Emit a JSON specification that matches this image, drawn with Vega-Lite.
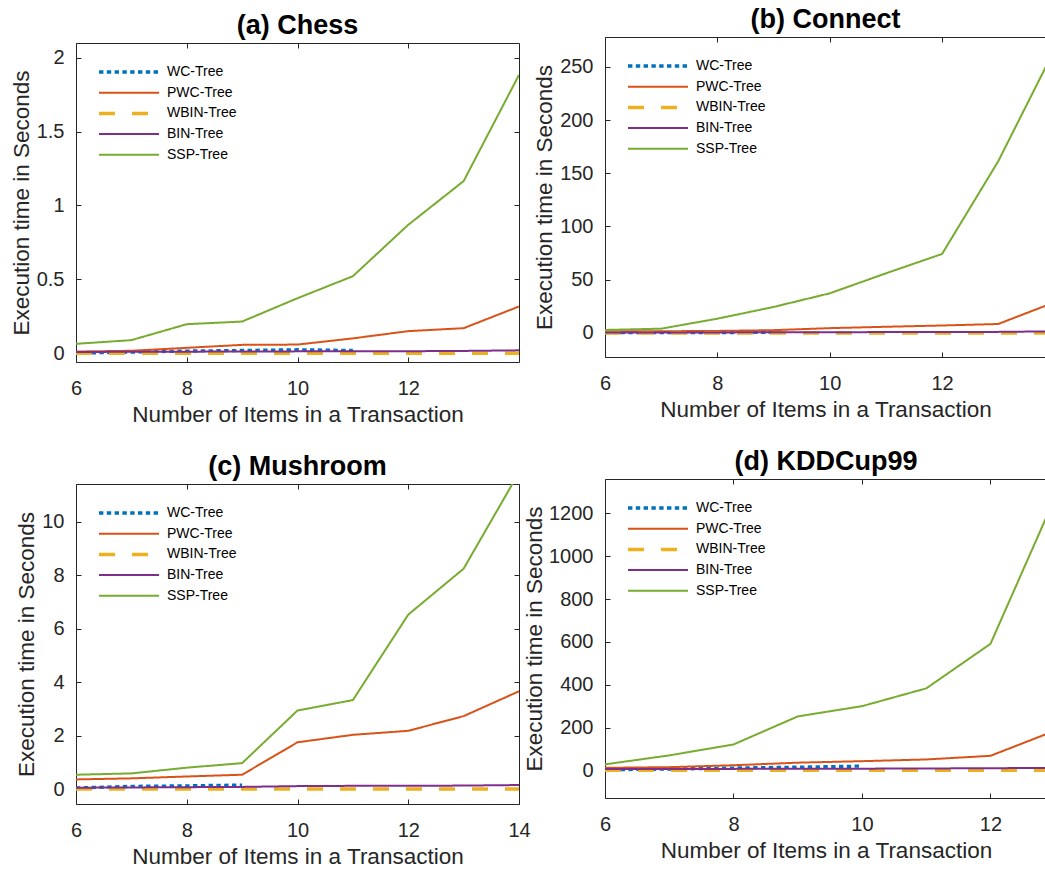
{
  "$schema": "https://vega.github.io/schema/vega-lite/v6.json",
  "padding": {"left": 10, "top": -2, "right": 0, "bottom": 0},
  "background": "white",
  "config": {
    "font": "Liberation Sans",
    "view": {"stroke": null},
    "axis": {
      "grid": false,
      "domainColor": "#262626",
      "tickColor": "#262626",
      "labelColor": "#262626",
      "titleColor": "#262626",
      "labelFont": "Liberation Sans",
      "titleFont": "Liberation Sans",
      "labelFontSize": 20,
      "titleFontSize": 22.5,
      "titleFontWeight": "normal",
      "tickSize": -5,
      "labelFlush": false,
      "labelOverlap": false
    },
    "axisX": {"labelPadding": 21, "titlePadding": 5},
    "axisY": {"labelPadding": 17, "titlePadding": 3},
    "title": {"fontSize": 27, "fontWeight": "bold", "color": "#000000", "font": "Liberation Sans", "offset": 3},
    "legend": {
      "orient": "top-left",
      "offset": 21,
      "padding": 0,
      "title": null,
      "symbolType": "stroke",
      "symbolSize": 3600,
      "clipHeight": 16,
      "labelFontSize": 14,
      "labelColor": "#000000",
      "labelFont": "Liberation Sans",
      "rowPadding": 4.7,
      "labelOffset": 6
    }
  },
  "datasets": {
    "d": [
      {"p": "a", "s": "WC-Tree", "x": 6, "y": 0.0},
      {"p": "a", "s": "WC-Tree", "x": 7, "y": 0.007},
      {"p": "a", "s": "WC-Tree", "x": 8, "y": 0.014},
      {"p": "a", "s": "WC-Tree", "x": 9, "y": 0.018},
      {"p": "a", "s": "WC-Tree", "x": 10, "y": 0.023},
      {"p": "a", "s": "WC-Tree", "x": 11, "y": 0.018},
      {"p": "a", "s": "PWC-Tree", "x": 6, "y": 0.011},
      {"p": "a", "s": "PWC-Tree", "x": 7, "y": 0.016},
      {"p": "a", "s": "PWC-Tree", "x": 8, "y": 0.036},
      {"p": "a", "s": "PWC-Tree", "x": 9, "y": 0.056},
      {"p": "a", "s": "PWC-Tree", "x": 10, "y": 0.058},
      {"p": "a", "s": "PWC-Tree", "x": 11, "y": 0.1},
      {"p": "a", "s": "PWC-Tree", "x": 12, "y": 0.149},
      {"p": "a", "s": "PWC-Tree", "x": 13, "y": 0.169},
      {"p": "a", "s": "PWC-Tree", "x": 14, "y": 0.316},
      {"p": "a", "s": "WBIN-Tree", "x": 6, "y": 0.0},
      {"p": "a", "s": "WBIN-Tree", "x": 7, "y": 0.0},
      {"p": "a", "s": "WBIN-Tree", "x": 8, "y": 0.0},
      {"p": "a", "s": "WBIN-Tree", "x": 9, "y": 0.0},
      {"p": "a", "s": "WBIN-Tree", "x": 10, "y": 0.0},
      {"p": "a", "s": "WBIN-Tree", "x": 11, "y": 0.0},
      {"p": "a", "s": "WBIN-Tree", "x": 12, "y": 0.0},
      {"p": "a", "s": "WBIN-Tree", "x": 13, "y": 0.0},
      {"p": "a", "s": "WBIN-Tree", "x": 14, "y": 0.0},
      {"p": "a", "s": "BIN-Tree", "x": 6, "y": 0.008},
      {"p": "a", "s": "BIN-Tree", "x": 7, "y": 0.009},
      {"p": "a", "s": "BIN-Tree", "x": 8, "y": 0.01},
      {"p": "a", "s": "BIN-Tree", "x": 9, "y": 0.011},
      {"p": "a", "s": "BIN-Tree", "x": 10, "y": 0.012},
      {"p": "a", "s": "BIN-Tree", "x": 11, "y": 0.012},
      {"p": "a", "s": "BIN-Tree", "x": 12, "y": 0.013},
      {"p": "a", "s": "BIN-Tree", "x": 13, "y": 0.015},
      {"p": "a", "s": "BIN-Tree", "x": 14, "y": 0.019},
      {"p": "a", "s": "SSP-Tree", "x": 6, "y": 0.063},
      {"p": "a", "s": "SSP-Tree", "x": 7, "y": 0.088},
      {"p": "a", "s": "SSP-Tree", "x": 8, "y": 0.196},
      {"p": "a", "s": "SSP-Tree", "x": 9, "y": 0.214},
      {"p": "a", "s": "SSP-Tree", "x": 10, "y": 0.372},
      {"p": "a", "s": "SSP-Tree", "x": 11, "y": 0.521},
      {"p": "a", "s": "SSP-Tree", "x": 12, "y": 0.869},
      {"p": "a", "s": "SSP-Tree", "x": 13, "y": 1.165},
      {"p": "a", "s": "SSP-Tree", "x": 14, "y": 1.884},

      {"p": "b", "s": "WC-Tree", "x": 6, "y": 0.2},
      {"p": "b", "s": "WC-Tree", "x": 7, "y": 0.3},
      {"p": "b", "s": "WC-Tree", "x": 8, "y": 0.4},
      {"p": "b", "s": "WC-Tree", "x": 9, "y": 0.5},
      {"p": "b", "s": "PWC-Tree", "x": 6, "y": 1.5},
      {"p": "b", "s": "PWC-Tree", "x": 7, "y": 1.6},
      {"p": "b", "s": "PWC-Tree", "x": 8, "y": 1.9},
      {"p": "b", "s": "PWC-Tree", "x": 9, "y": 2.6},
      {"p": "b", "s": "PWC-Tree", "x": 10, "y": 4.5},
      {"p": "b", "s": "PWC-Tree", "x": 11, "y": 5.8},
      {"p": "b", "s": "PWC-Tree", "x": 12, "y": 7.0},
      {"p": "b", "s": "PWC-Tree", "x": 13, "y": 8.4},
      {"p": "b", "s": "PWC-Tree", "x": 14, "y": 28.8},
      {"p": "b", "s": "WBIN-Tree", "x": 6, "y": 0.0},
      {"p": "b", "s": "WBIN-Tree", "x": 7, "y": 0.0},
      {"p": "b", "s": "WBIN-Tree", "x": 8, "y": 0.0},
      {"p": "b", "s": "WBIN-Tree", "x": 9, "y": 0.0},
      {"p": "b", "s": "WBIN-Tree", "x": 10, "y": 0.0},
      {"p": "b", "s": "WBIN-Tree", "x": 11, "y": 0.0},
      {"p": "b", "s": "WBIN-Tree", "x": 12, "y": 0.0},
      {"p": "b", "s": "WBIN-Tree", "x": 13, "y": 0.0},
      {"p": "b", "s": "WBIN-Tree", "x": 14, "y": 0.0},
      {"p": "b", "s": "BIN-Tree", "x": 6, "y": 0.3},
      {"p": "b", "s": "BIN-Tree", "x": 7, "y": 0.4},
      {"p": "b", "s": "BIN-Tree", "x": 8, "y": 0.5},
      {"p": "b", "s": "BIN-Tree", "x": 9, "y": 0.6},
      {"p": "b", "s": "BIN-Tree", "x": 10, "y": 0.7},
      {"p": "b", "s": "BIN-Tree", "x": 11, "y": 0.8},
      {"p": "b", "s": "BIN-Tree", "x": 12, "y": 0.9},
      {"p": "b", "s": "BIN-Tree", "x": 13, "y": 1.0},
      {"p": "b", "s": "BIN-Tree", "x": 14, "y": 1.5},
      {"p": "b", "s": "SSP-Tree", "x": 6, "y": 2.8},
      {"p": "b", "s": "SSP-Tree", "x": 7, "y": 4.0},
      {"p": "b", "s": "SSP-Tree", "x": 8, "y": 13.4},
      {"p": "b", "s": "SSP-Tree", "x": 9, "y": 24.4},
      {"p": "b", "s": "SSP-Tree", "x": 10, "y": 37.2},
      {"p": "b", "s": "SSP-Tree", "x": 11, "y": 56},
      {"p": "b", "s": "SSP-Tree", "x": 12, "y": 74.2},
      {"p": "b", "s": "SSP-Tree", "x": 13, "y": 161.3},
      {"p": "b", "s": "SSP-Tree", "x": 14, "y": 266},

      {"p": "c", "s": "WC-Tree", "x": 6, "y": 0.04},
      {"p": "c", "s": "WC-Tree", "x": 7, "y": 0.1},
      {"p": "c", "s": "WC-Tree", "x": 8, "y": 0.12},
      {"p": "c", "s": "WC-Tree", "x": 9, "y": 0.15},
      {"p": "c", "s": "PWC-Tree", "x": 6, "y": 0.36},
      {"p": "c", "s": "PWC-Tree", "x": 7, "y": 0.4},
      {"p": "c", "s": "PWC-Tree", "x": 8, "y": 0.47},
      {"p": "c", "s": "PWC-Tree", "x": 9, "y": 0.536},
      {"p": "c", "s": "PWC-Tree", "x": 10, "y": 1.75},
      {"p": "c", "s": "PWC-Tree", "x": 11, "y": 2.03},
      {"p": "c", "s": "PWC-Tree", "x": 12, "y": 2.18},
      {"p": "c", "s": "PWC-Tree", "x": 13, "y": 2.73},
      {"p": "c", "s": "PWC-Tree", "x": 14, "y": 3.66},
      {"p": "c", "s": "WBIN-Tree", "x": 6, "y": 0.0},
      {"p": "c", "s": "WBIN-Tree", "x": 7, "y": 0.0},
      {"p": "c", "s": "WBIN-Tree", "x": 8, "y": 0.0},
      {"p": "c", "s": "WBIN-Tree", "x": 9, "y": 0.0},
      {"p": "c", "s": "WBIN-Tree", "x": 10, "y": 0.0},
      {"p": "c", "s": "WBIN-Tree", "x": 11, "y": 0.0},
      {"p": "c", "s": "WBIN-Tree", "x": 12, "y": 0.0},
      {"p": "c", "s": "WBIN-Tree", "x": 13, "y": 0.0},
      {"p": "c", "s": "WBIN-Tree", "x": 14, "y": 0.0},
      {"p": "c", "s": "BIN-Tree", "x": 6, "y": 0.05},
      {"p": "c", "s": "BIN-Tree", "x": 7, "y": 0.06},
      {"p": "c", "s": "BIN-Tree", "x": 8, "y": 0.07},
      {"p": "c", "s": "BIN-Tree", "x": 9, "y": 0.08},
      {"p": "c", "s": "BIN-Tree", "x": 10, "y": 0.11},
      {"p": "c", "s": "BIN-Tree", "x": 11, "y": 0.12},
      {"p": "c", "s": "BIN-Tree", "x": 12, "y": 0.12},
      {"p": "c", "s": "BIN-Tree", "x": 13, "y": 0.13},
      {"p": "c", "s": "BIN-Tree", "x": 14, "y": 0.15},
      {"p": "c", "s": "SSP-Tree", "x": 6, "y": 0.536},
      {"p": "c", "s": "SSP-Tree", "x": 7, "y": 0.585},
      {"p": "c", "s": "SSP-Tree", "x": 8, "y": 0.8},
      {"p": "c", "s": "SSP-Tree", "x": 9, "y": 0.97},
      {"p": "c", "s": "SSP-Tree", "x": 10, "y": 2.94},
      {"p": "c", "s": "SSP-Tree", "x": 11, "y": 3.33},
      {"p": "c", "s": "SSP-Tree", "x": 12, "y": 6.53},
      {"p": "c", "s": "SSP-Tree", "x": 13, "y": 8.25},
      {"p": "c", "s": "SSP-Tree", "x": 14, "y": 11.85},

      {"p": "d", "s": "WC-Tree", "x": 6, "y": 3},
      {"p": "d", "s": "WC-Tree", "x": 7, "y": 6},
      {"p": "d", "s": "WC-Tree", "x": 8, "y": 11},
      {"p": "d", "s": "WC-Tree", "x": 9, "y": 15},
      {"p": "d", "s": "WC-Tree", "x": 10, "y": 20},
      {"p": "d", "s": "PWC-Tree", "x": 6, "y": 12},
      {"p": "d", "s": "PWC-Tree", "x": 7, "y": 15},
      {"p": "d", "s": "PWC-Tree", "x": 8, "y": 24},
      {"p": "d", "s": "PWC-Tree", "x": 9, "y": 36},
      {"p": "d", "s": "PWC-Tree", "x": 10, "y": 43},
      {"p": "d", "s": "PWC-Tree", "x": 11, "y": 51},
      {"p": "d", "s": "PWC-Tree", "x": 12, "y": 68},
      {"p": "d", "s": "PWC-Tree", "x": 13, "y": 185},
      {"p": "d", "s": "WBIN-Tree", "x": 6, "y": 1},
      {"p": "d", "s": "WBIN-Tree", "x": 7, "y": 1},
      {"p": "d", "s": "WBIN-Tree", "x": 8, "y": 1},
      {"p": "d", "s": "WBIN-Tree", "x": 9, "y": 1},
      {"p": "d", "s": "WBIN-Tree", "x": 10, "y": 1},
      {"p": "d", "s": "WBIN-Tree", "x": 11, "y": 1},
      {"p": "d", "s": "WBIN-Tree", "x": 12, "y": 1},
      {"p": "d", "s": "WBIN-Tree", "x": 13, "y": 1},
      {"p": "d", "s": "BIN-Tree", "x": 6, "y": 6},
      {"p": "d", "s": "BIN-Tree", "x": 7, "y": 7},
      {"p": "d", "s": "BIN-Tree", "x": 8, "y": 7},
      {"p": "d", "s": "BIN-Tree", "x": 9, "y": 8},
      {"p": "d", "s": "BIN-Tree", "x": 10, "y": 8},
      {"p": "d", "s": "BIN-Tree", "x": 11, "y": 9},
      {"p": "d", "s": "BIN-Tree", "x": 12, "y": 10},
      {"p": "d", "s": "BIN-Tree", "x": 13, "y": 12},
      {"p": "d", "s": "SSP-Tree", "x": 6, "y": 28},
      {"p": "d", "s": "SSP-Tree", "x": 7, "y": 70},
      {"p": "d", "s": "SSP-Tree", "x": 8, "y": 121},
      {"p": "d", "s": "SSP-Tree", "x": 9, "y": 252},
      {"p": "d", "s": "SSP-Tree", "x": 10, "y": 300},
      {"p": "d", "s": "SSP-Tree", "x": 11, "y": 383},
      {"p": "d", "s": "SSP-Tree", "x": 12, "y": 591},
      {"p": "d", "s": "SSP-Tree", "x": 13, "y": 1271}
    ]
  },
  "spacing": -8,
  "resolve": {"scale": {"color": "independent", "strokeDash": "independent", "strokeWidth": "independent"}},
  "hconcat": [
    {
      "spacing": 26,
      "resolve": {"scale": {"color": "independent", "strokeDash": "independent", "strokeWidth": "independent"}},
      "vconcat": [
        {
          "spacing": 0,
          "resolve": {"scale": {"color": "independent", "strokeDash": "independent", "strokeWidth": "independent"}},
          "vconcat": [
            {
              "width": 1, "height": 10,
              "data": {"values": [{"k": 0}]},
              "mark": {"type": "point", "opacity": 0}
            },
            {
              "width": 443, "height": 319,
              "title": {"text": "(a) Chess"},
              "data": {"name": "d"},
              "transform": [{"filter": "datum.p == 'a'"}],
              "layer": [
                {
                  "mark": {"type": "line", "clip": true},
                  "encoding": {
                    "x": {"field": "x", "type": "quantitative", "scale": {"domain": [6, 14], "nice": false, "zero": false}, "axis": {"values": [6, 8, 10, 12], "title": "Number of Items in a Transaction"}},
                    "y": {"field": "y", "type": "quantitative", "scale": {"domain": [-0.06, 2.1], "nice": false, "zero": false}, "axis": {"values": [0, 0.5, 1, 1.5, 2], "format": "~g", "title": "Execution time in Seconds"}},
                    "color": {"field": "s", "type": "nominal", "scale": {"domain": ["WC-Tree", "PWC-Tree", "WBIN-Tree", "BIN-Tree", "SSP-Tree"], "range": ["#0072BD", "#D95319", "#EDB120", "#7E2F8E", "#77AC30"]}},
                    "strokeDash": {"field": "s", "type": "nominal", "scale": {"domain": ["WC-Tree", "PWC-Tree", "WBIN-Tree", "BIN-Tree", "SSP-Tree"], "range": [[4.4, 3.4], [1, 0], [16, 17], [1, 0], [1, 0]]}},
                    "strokeWidth": {"field": "s", "type": "nominal", "scale": {"type": "ordinal", "domain": ["WC-Tree", "PWC-Tree", "WBIN-Tree", "BIN-Tree", "SSP-Tree"], "range": [3.3, 2, 3.5, 2, 2]}}
                  }
                },
                {
                  "mark": {"type": "point", "opacity": 0, "clip": true},
                  "encoding": {
                    "x": {"field": "x", "type": "quantitative", "axis": {"orient": "top", "values": [6, 8, 10, 12], "labels": false, "title": null}},
                    "y": {"field": "y", "type": "quantitative", "axis": {"orient": "right", "values": [0, 0.5, 1, 1.5, 2], "labels": false, "title": null}}
                  }
                }
              ],
              "resolve": {"axis": {"x": "independent", "y": "independent"}}
            }
          ]
        },
        {
          "width": 443, "height": 320,
          "title": {"text": "(c) Mushroom"},
          "data": {"name": "d"},
          "transform": [{"filter": "datum.p == 'c'"}],
          "layer": [
            {
              "mark": {"type": "line", "clip": true},
              "encoding": {
                "x": {"field": "x", "type": "quantitative", "scale": {"domain": [6, 14], "nice": false, "zero": false}, "axis": {"values": [6, 8, 10, 12, 14], "title": "Number of Items in a Transaction"}},
                "y": {"field": "y", "type": "quantitative", "scale": {"domain": [-0.56, 11.42], "nice": false, "zero": false}, "axis": {"values": [0, 2, 4, 6, 8, 10], "format": "d", "title": "Execution time in Seconds"}},
                "color": {"field": "s", "type": "nominal", "scale": {"domain": ["WC-Tree", "PWC-Tree", "WBIN-Tree", "BIN-Tree", "SSP-Tree"], "range": ["#0072BD", "#D95319", "#EDB120", "#7E2F8E", "#77AC30"]}},
                "strokeDash": {"field": "s", "type": "nominal", "scale": {"domain": ["WC-Tree", "PWC-Tree", "WBIN-Tree", "BIN-Tree", "SSP-Tree"], "range": [[4.4, 3.4], [1, 0], [16, 17], [1, 0], [1, 0]]}},
                "strokeWidth": {"field": "s", "type": "nominal", "scale": {"type": "ordinal", "domain": ["WC-Tree", "PWC-Tree", "WBIN-Tree", "BIN-Tree", "SSP-Tree"], "range": [3.3, 2, 3.5, 2, 2]}}
              }
            },
            {
              "mark": {"type": "point", "opacity": 0, "clip": true},
              "encoding": {
                "x": {"field": "x", "type": "quantitative", "axis": {"orient": "top", "values": [6, 8, 10, 12, 14], "labels": false, "title": null}},
                "y": {"field": "y", "type": "quantitative", "axis": {"orient": "right", "values": [0, 2, 4, 6, 8, 10], "labels": false, "title": null}}
              }
            }
          ],
          "resolve": {"axis": {"x": "independent", "y": "independent"}}
        }
      ]
    },
    {
      "spacing": 26,
      "resolve": {"scale": {"color": "independent", "strokeDash": "independent", "strokeWidth": "independent"}},
      "vconcat": [
        {
          "spacing": 0,
          "resolve": {"scale": {"color": "independent", "strokeDash": "independent", "strokeWidth": "independent"}},
          "vconcat": [
            {
              "width": 1, "height": 1,
              "data": {"values": [{"k": 0}]},
              "mark": {"type": "point", "opacity": 0}
            },
            {
              "width": 441, "height": 320,
              "title": {"text": "(b) Connect"},
              "data": {"name": "d"},
              "transform": [{"filter": "datum.p == 'b'"}],
              "layer": [
                {
                  "mark": {"type": "line", "clip": true},
                  "encoding": {
                    "x": {"field": "x", "type": "quantitative", "scale": {"domain": [6, 13.85], "nice": false, "zero": false}, "axis": {"values": [6, 8, 10, 12], "title": "Number of Items in a Transaction"}},
                    "y": {"field": "y", "type": "quantitative", "scale": {"domain": [-22.6, 278], "nice": false, "zero": false}, "axis": {"values": [0, 50, 100, 150, 200, 250], "format": "d", "title": "Execution time in Seconds"}},
                    "color": {"field": "s", "type": "nominal", "scale": {"domain": ["WC-Tree", "PWC-Tree", "WBIN-Tree", "BIN-Tree", "SSP-Tree"], "range": ["#0072BD", "#D95319", "#EDB120", "#7E2F8E", "#77AC30"]}},
                    "strokeDash": {"field": "s", "type": "nominal", "scale": {"domain": ["WC-Tree", "PWC-Tree", "WBIN-Tree", "BIN-Tree", "SSP-Tree"], "range": [[4.4, 3.4], [1, 0], [16, 17], [1, 0], [1, 0]]}},
                    "strokeWidth": {"field": "s", "type": "nominal", "scale": {"type": "ordinal", "domain": ["WC-Tree", "PWC-Tree", "WBIN-Tree", "BIN-Tree", "SSP-Tree"], "range": [3.3, 2, 3.5, 2, 2]}}
                  }
                },
                {
                  "mark": {"type": "point", "opacity": 0, "clip": true},
                  "encoding": {
                    "x": {"field": "x", "type": "quantitative", "axis": {"orient": "top", "values": [6, 8, 10, 12], "labels": false, "title": null}}
                  }
                }
              ],
              "resolve": {"axis": {"x": "independent"}}
            }
          ]
        },
        {
          "width": 442, "height": 319,
          "title": {"text": "(d) KDDCup99"},
          "data": {"name": "d"},
          "transform": [{"filter": "datum.p == 'd'"}],
          "layer": [
            {
              "mark": {"type": "line", "clip": true},
              "encoding": {
                "x": {"field": "x", "type": "quantitative", "scale": {"domain": [6, 12.88], "nice": false, "zero": false}, "axis": {"values": [6, 8, 10, 12], "title": "Number of Items in a Transaction"}},
                "y": {"field": "y", "type": "quantitative", "scale": {"domain": [-129, 1361], "nice": false, "zero": false}, "axis": {"values": [0, 200, 400, 600, 800, 1000, 1200], "format": "d", "title": "Execution time in Seconds", "titlePadding": 2}},
                "color": {"field": "s", "type": "nominal", "scale": {"domain": ["WC-Tree", "PWC-Tree", "WBIN-Tree", "BIN-Tree", "SSP-Tree"], "range": ["#0072BD", "#D95319", "#EDB120", "#7E2F8E", "#77AC30"]}},
                "strokeDash": {"field": "s", "type": "nominal", "scale": {"domain": ["WC-Tree", "PWC-Tree", "WBIN-Tree", "BIN-Tree", "SSP-Tree"], "range": [[4.4, 3.4], [1, 0], [16, 17], [1, 0], [1, 0]]}},
                "strokeWidth": {"field": "s", "type": "nominal", "scale": {"type": "ordinal", "domain": ["WC-Tree", "PWC-Tree", "WBIN-Tree", "BIN-Tree", "SSP-Tree"], "range": [3.3, 2, 3.5, 2, 2]}}
              }
            },
            {
              "mark": {"type": "point", "opacity": 0, "clip": true},
              "encoding": {
                "x": {"field": "x", "type": "quantitative", "axis": {"orient": "top", "values": [6, 8, 10, 12], "labels": false, "title": null}}
              }
            }
          ],
          "resolve": {"axis": {"x": "independent"}}
        }
      ]
    }
  ]
}
